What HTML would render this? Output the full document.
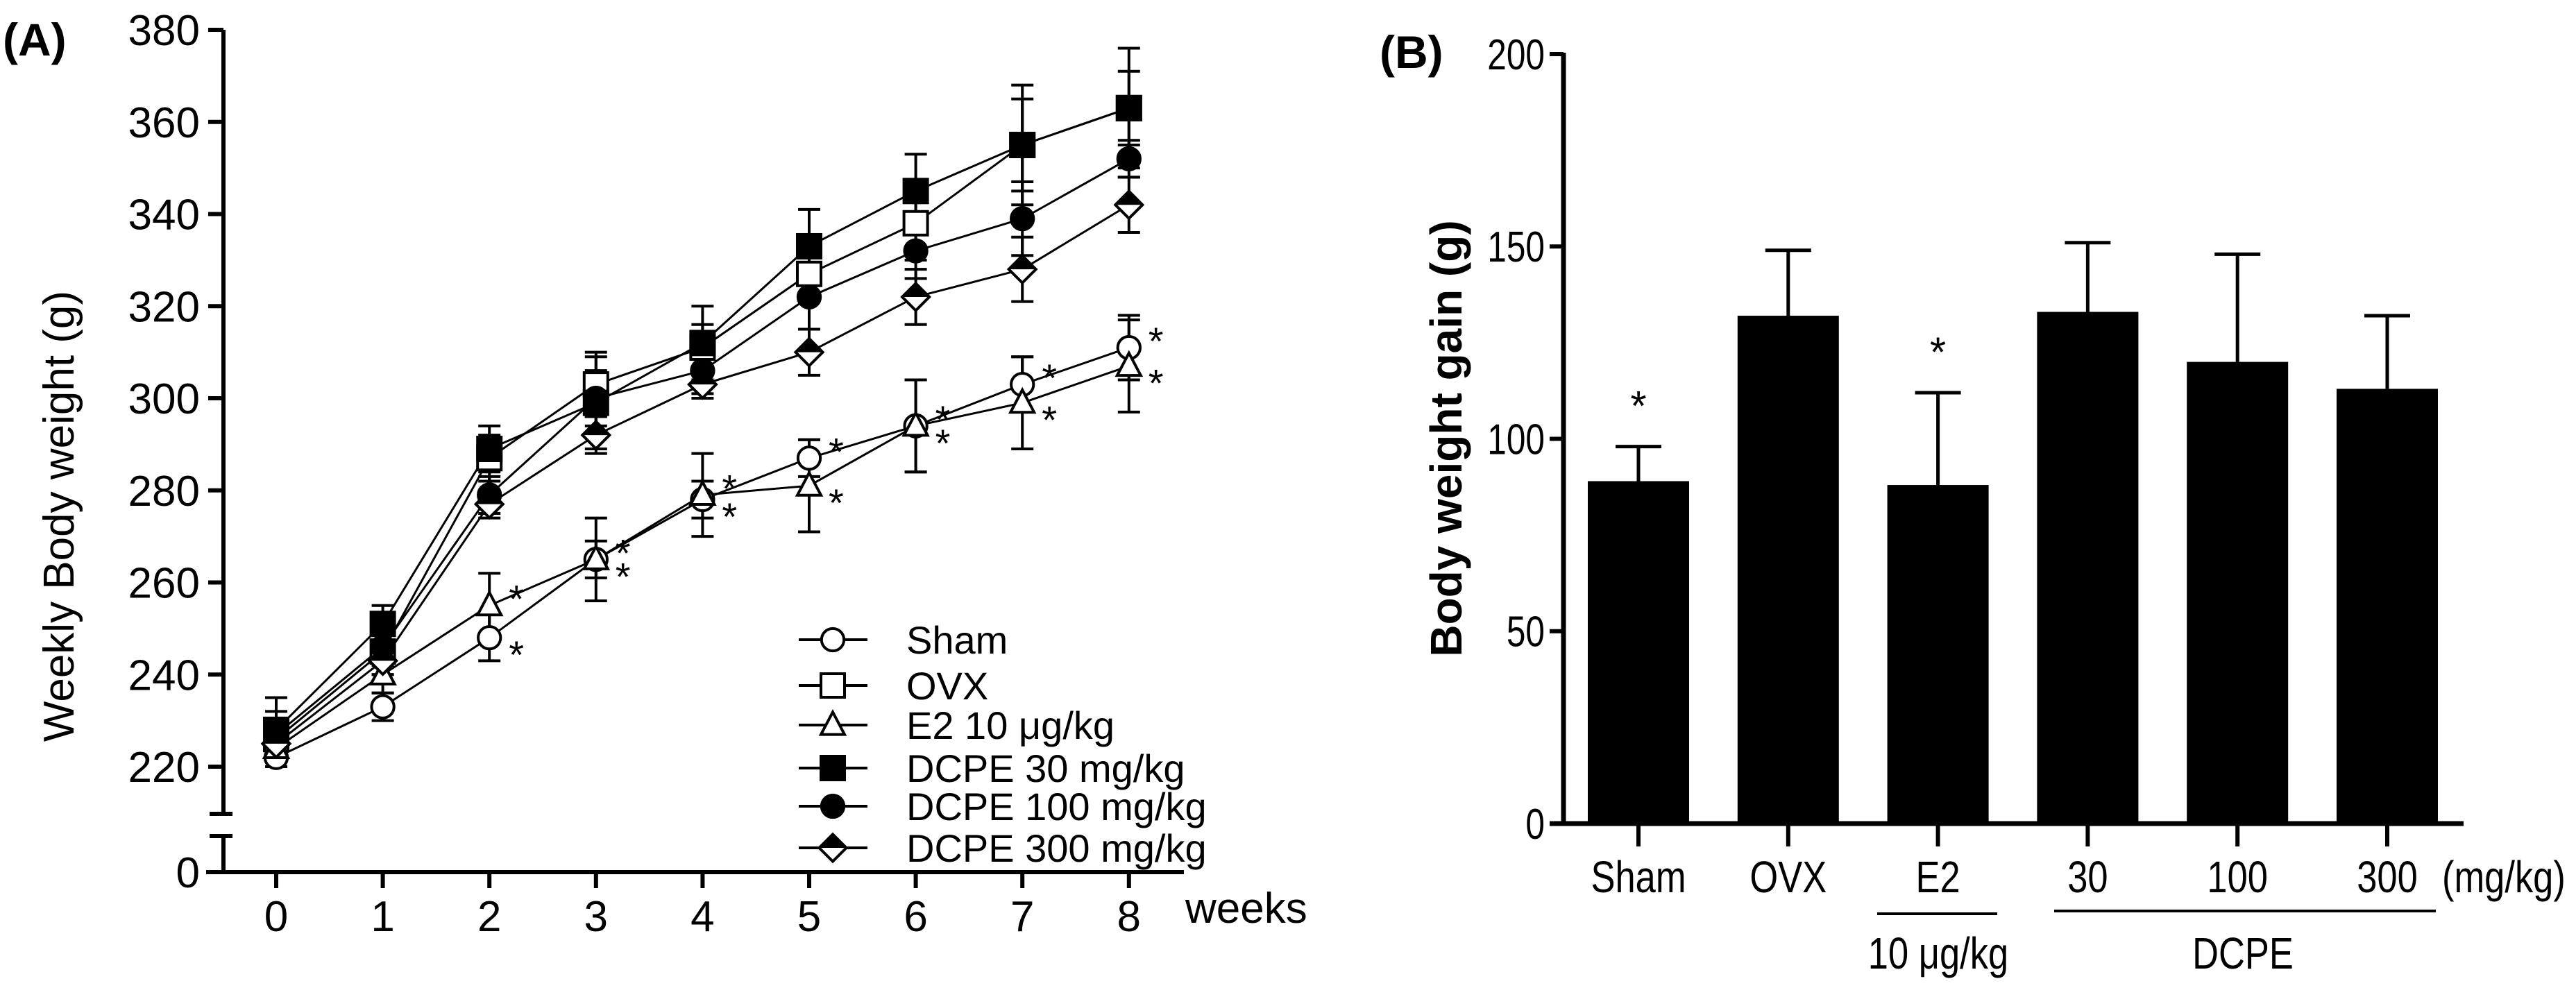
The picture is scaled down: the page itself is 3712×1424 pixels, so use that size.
<!DOCTYPE html>
<html><head><meta charset="utf-8"><style>
html,body{margin:0;padding:0;background:#fff;}
svg{display:block;font-family:"Liberation Sans",Arial,sans-serif;}
</style></head><body>
<svg id="fig" width="3712" height="1424" viewBox="0 0 3712 1424"></svg>
<script>
// ---- Panel A data ----
const weeks = [0,1,2,3,4,5,6,7,8];
const shamVals = [222,233,248,265,278,287,294,303,311];
const shamErr  = [2,3,5,4,4,4,10,6,7];
const ovxVals  = [226,245,287,303,311,327,338,355,363];
const ovxErr   = [4,5,5,7,5,6,8,10,8];
const e2Vals   = [224,240,255,265,279,281,294,299,307];
const e2Err    = [3,4,7,9,9,10,10,10,10];
const d30Vals  = [228,251,289,299,312,333,345,355,363];
const d30Err   = [7,4,5,10,8,8,8,13,13];
const d100Vals = [227,246,279,300,306,322,332,339,352];
const d100Err  = [5,4,4,6,5,7,6,8,4];
const d300Vals = [225,243,277,292,303,310,322,328,342];
const d300Err  = [3,3,3,4,3,5,6,7,6];
const yTicksA  = [220,240,260,280,300,320,340,360,380];
const seriesNames = ["Sham","OVX","E2 10 μg/kg","DCPE 30 mg/kg","DCPE 100 mg/kg","DCPE 300 mg/kg"];
// ---- Panel B data ----
const groups = ["Sham","OVX","E2","30","100","300"];
const gainVals = [89,132,88,133,120,113];
const gainErr  = [9,17,24,18,28,19];
const yTicksB  = [0,50,100,150,200];
const starGroups = [0,2];

const NS="http://www.w3.org/2000/svg";
const svg=document.getElementById('fig');
function el(tag,attrs,text){const e=document.createElementNS(NS,tag);for(const k in attrs)e.setAttribute(k,attrs[k]);if(text!==undefined)e.textContent=text;svg.appendChild(e);return e;}

const xA=w=>398+w*153.6;
const yA=v=>1105-(v-220)*(1062/160);

let e;
e=el('line',{x1:322,y1:43,x2:322,y2:1173,stroke:'#000','stroke-width':6});


e=el('line',{x1:322,y1:1205,x2:322,y2:1257,stroke:'#000','stroke-width':6});


el('line',{x1:302,y1:1173,x2:335,y2:1173,stroke:'#000','stroke-width':6});
el('line',{x1:302,y1:1205,x2:335,y2:1205,stroke:'#000','stroke-width':6});
e=el('line',{x1:297,y1:1257,x2:1706,y2:1257,stroke:'#000','stroke-width':6});


yTicksA.forEach(v=>{
  el('line',{x1:300,y1:yA(v),x2:322,y2:yA(v),stroke:'#000','stroke-width':6});
  e=el('text',{x:288,y:yA(v)+22,'text-anchor':'end','font-size':62},String(v));
  
  
});
el('line',{x1:300,y1:1257,x2:322,y2:1257,stroke:'#000','stroke-width':6});
e=el('text',{x:288,y:1279,'text-anchor':'end','font-size':62},'0');


weeks.forEach(w=>{
  el('line',{x1:xA(w),y1:1257,x2:xA(w),y2:1280,stroke:'#000','stroke-width':6});
  e=el('text',{x:xA(w),y:1342,'text-anchor':'middle','font-size':62},String(w));
  
  
});
e=el('text',{x:1708,y:1330,'font-size':62},'weeks');


e=el('text',{x:4,y:80,'font-size':66,'font-weight':'bold'},'(A)');


e=el('text',{x:0,y:0,'font-size':62,'text-anchor':'middle',transform:'translate(106,744) rotate(-90)'},'Weekly Body weight (g)');



// 0 sham: open circle, 1 ovx: open square, 2 e2: open triangle,
// 3 d30: filled square, 4 d100: filled circle, 5 d300: half-filled diamond
function marker(type,cx,cy,r){
  const st={stroke:'#000','stroke-width':4};
  if(type===0) return el('circle',Object.assign({cx:cx,cy:cy,r:r*0.95,fill:'#fff'},st));
  if(type===1) return el('rect',Object.assign({x:cx-r,y:cy-r,width:2*r,height:2*r,fill:'#fff'},st));
  if(type===2) return el('polygon',Object.assign({points:`${cx},${cy-r*1.1} ${cx+r},${cy+r*0.8} ${cx-r},${cy+r*0.8}`,fill:'#fff'},st));
  if(type===3) return el('rect',Object.assign({x:cx-r,y:cy-r,width:2*r,height:2*r,fill:'#000'},st));
  if(type===4) return el('circle',Object.assign({cx:cx,cy:cy,r:r*0.95,fill:'#000'},st));
  const d=r*1.15;
  const g=el('polygon',Object.assign({points:`${cx},${cy-d} ${cx+d},${cy} ${cx},${cy+d} ${cx-d},${cy}`,fill:'#fff'},st));
  el('polygon',{points:`${cx},${cy-d} ${cx+d},${cy} ${cx-d},${cy}`,fill:'#000'});
  return g;
}
const allVals=[shamVals,ovxVals,e2Vals,d30Vals,d100Vals,d300Vals];
const allErr=[shamErr,ovxErr,e2Err,d30Err,d100Err,d300Err];
const seriesKeys=['sham','ovx','e2','dcpe30','dcpe100','dcpe300'];
allVals.forEach((vals,si)=>{
  const pts=vals.map((v,i)=>xA(weeks[i])+','+yA(v)).join(' ');
  e=el('polyline',{points:pts,fill:'none',stroke:'#000','stroke-width':3});
  
  
  vals.forEach((v,i)=>{
    const x=xA(weeks[i]),er=allErr[si][i];
    el('line',{x1:x,y1:yA(v+er),x2:x,y2:yA(v-er),stroke:'#000','stroke-width':4});
    el('line',{x1:x-16,y1:yA(v+er),x2:x+16,y2:yA(v+er),stroke:'#000','stroke-width':4});
    el('line',{x1:x-16,y1:yA(v-er),x2:x+16,y2:yA(v-er),stroke:'#000','stroke-width':4});
  });
});
allVals.forEach((vals,si)=>{
  vals.forEach((v,i)=>{
    e=marker(si,xA(weeks[i]),yA(v),17);
    
    
  });
});
[shamVals,e2Vals].forEach((vals,k)=>{
  vals.forEach((v,i)=>{
    if(i<2) return;
    const dy = (k===0)? (vals[i]>=e2Vals[i]?-12:22) : (vals[i]>shamVals[i]?-12:22);
    e=el('text',{x:xA(weeks[i])+28,y:yA(v)+dy+22,'font-size':56},'*');
    
    
  });
});
const legY=[922,988,1045,1107,1162,1222];
seriesNames.forEach((n,i)=>{
  el('line',{x1:1151,y1:legY[i],x2:1250,y2:legY[i],stroke:'#000','stroke-width':4});
  e=marker(i,1200,legY[i],17);
  
  
  e=el('text',{x:1306,y:legY[i]+20,'font-size':56},n);
  
  
});

// Panel B
const xB=i=>2361+i*215.8;
const yB=v=>1187-v*(1109/200);
e=el('line',{x1:2253,y1:76,x2:2253,y2:1190,stroke:'#000','stroke-width':7});


e=el('line',{x1:2233,y1:1187,x2:3550,y2:1187,stroke:'#000','stroke-width':7});


yTicksB.forEach(v=>{
  el('line',{x1:2233,y1:yB(v),x2:2253,y2:yB(v),stroke:'#000','stroke-width':6});
  e=el('text',{x:2226,y:yB(v)+22,'text-anchor':'end','font-size':62,transform:`translate(2226,0) scale(0.8,1) translate(-2226,0)`},String(v));
  
  
});
groups.forEach((g,i)=>{
  const x=xB(i),v=gainVals[i],er=gainErr[i];
  el('line',{x1:x,y1:yB(v),x2:x,y2:yB(v+er),stroke:'#000','stroke-width':5});
  el('line',{x1:x-33,y1:yB(v+er),x2:x+33,y2:yB(v+er),stroke:'#000','stroke-width':5});
  e=el('rect',{x:x-73,y:yB(v),width:146,height:yB(0)-yB(v),fill:'#000'});
  
  
  el('line',{x1:x,y1:1187,x2:x,y2:1220,stroke:'#000','stroke-width':6});
  e=el('text',{x:x,y:1286,'text-anchor':'middle','font-size':64,transform:`translate(${x},0) scale(0.82,1) translate(${-x},0)`},g);
  
  
});
starGroups.forEach(i=>{
  e=el('text',{x:xB(i),y:yB(gainVals[i]+gainErr[i])-38,'text-anchor':'middle','font-size':60},'*');
  
  
});
e=el('text',{x:3519,y:1286,'font-size':64,transform:'translate(3519,0) scale(0.82,1) translate(-3519,0)'},'(mg/kg)');


el('line',{x1:2705,y1:1317,x2:2878,y2:1317,stroke:'#000','stroke-width':4});
el('line',{x1:2960,y1:1313,x2:3510,y2:1313,stroke:'#000','stroke-width':4});
e=el('text',{x:2793,y:1396,'text-anchor':'middle','font-size':64,transform:'translate(2793,0) scale(0.82,1) translate(-2793,0)'},'10 μg/kg');


e=el('text',{x:3232,y:1396,'text-anchor':'middle','font-size':64,transform:'translate(3232,0) scale(0.82,1) translate(-3232,0)'},'DCPE');


e=el('text',{x:1988,y:98,'font-size':66,'font-weight':'bold'},'(B)');


e=el('text',{x:0,y:0,'font-size':64,'font-weight':'bold','text-anchor':'middle',transform:'translate(2106,632) rotate(-90)'},'Body weight gain (g)');


</script>
</body></html>
